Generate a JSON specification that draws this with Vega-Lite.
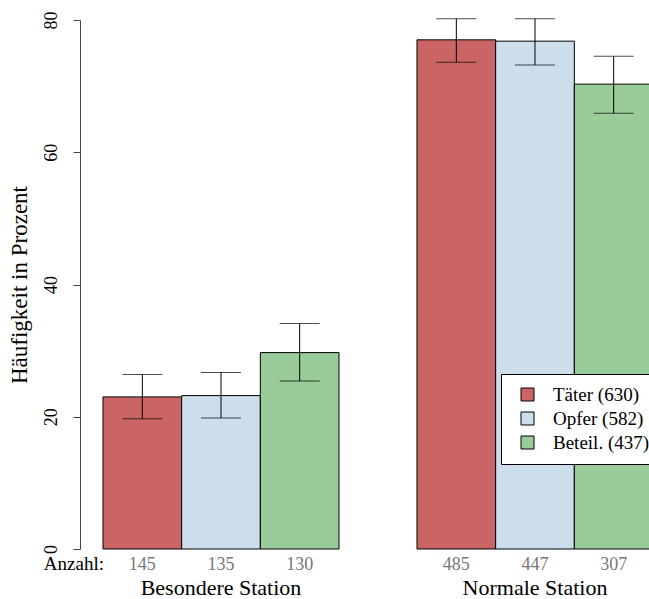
{
  "$schema": "https://vega.github.io/schema/vega-lite/v6.json",
  "autosize": {"type": "none"},
  "padding": {"left": 80, "top": 20, "right": 0, "bottom": 50},
  "width": 569,
  "height": 529,
  "config": {
    "font": "Liberation Serif",
    "view": {"stroke": null},
    "axis": {"grid": false}
  },
  "data": {
    "values": [
      {"Station": "Besondere Station", "Gruppe": "Täter (630)", "Prozent": 23.0, "lo": 19.7, "hi": 26.4, "n": 145},
      {"Station": "Besondere Station", "Gruppe": "Opfer (582)", "Prozent": 23.2, "lo": 19.8, "hi": 26.7, "n": 135},
      {"Station": "Besondere Station", "Gruppe": "Beteil. (437)", "Prozent": 29.7, "lo": 25.4, "hi": 34.1, "n": 130},
      {"Station": "Normale Station", "Gruppe": "Täter (630)", "Prozent": 77.0, "lo": 73.6, "hi": 80.2, "n": 485},
      {"Station": "Normale Station", "Gruppe": "Opfer (582)", "Prozent": 76.8, "lo": 73.2, "hi": 80.2, "n": 447},
      {"Station": "Normale Station", "Gruppe": "Beteil. (437)", "Prozent": 70.3, "lo": 65.9, "hi": 74.5, "n": 307}
    ]
  },
  "encoding": {
    "x": {
      "field": "Station",
      "type": "nominal",
      "sort": ["Besondere Station", "Normale Station"],
      "scale": {"range": [23, 573], "paddingInner": 0.2484, "paddingOuter": 0},
      "axis": {
        "title": null,
        "domain": false,
        "ticks": false,
        "labelAngle": 0,
        "labelFontSize": 22,
        "labelColor": "black",
        "labelPadding": 28
      }
    },
    "xOffset": {
      "field": "Gruppe",
      "type": "nominal",
      "sort": ["Täter (630)", "Opfer (582)", "Beteil. (437)"],
      "scale": {"paddingInner": 0, "paddingOuter": 0}
    }
  },
  "layer": [
    {
      "mark": {"type": "bar", "stroke": "black", "strokeWidth": 1, "clip": false},
      "encoding": {
        "y": {
          "field": "Prozent",
          "type": "quantitative",
          "scale": {"domain": [0, 80], "nice": false},
          "axis": {
            "title": "Häufigkeit in Prozent",
            "titleFont": "Liberation Serif",
            "titleFontSize": 23,
            "titleFontWeight": "normal",
            "titleColor": "black",
            "titlePadding": 11,
            "values": [0, 20, 40, 60, 80],
            "labelAngle": -90,
            "labelAlign": "center",
            "labelBaseline": "alphabetic",
            "labelPadding": 17,
            "labelFontSize": 18,
            "labelColor": "black",
            "tickSize": 7,
            "tickColor": "#444",
            "domainColor": "#444"
          }
        },
        "fill": {
          "field": "Gruppe",
          "type": "nominal",
          "sort": ["Täter (630)", "Opfer (582)", "Beteil. (437)"],
          "scale": {"range": ["#CB6565", "#CCDDEC", "#99CC99"]},
          "legend": {
            "title": null,
            "orient": "none",
            "legendX": 421,
            "legendY": 354,
            "strokeColor": "black",
            "fillColor": "white",
            "padding": 11,
            "symbolOffset": 6,
            "symbolType": "square",
            "symbolSize": 169,
            "symbolStrokeColor": "black",
            "symbolStrokeWidth": 1,
            "labelFontSize": 19,
            "labelColor": "black",
            "labelOffset": 16,
            "rowPadding": 4
          }
        }
      }
    },
    {
      "mark": {"type": "rule", "color": "black", "strokeWidth": 1, "clip": false},
      "encoding": {
        "y": {"field": "lo", "type": "quantitative"},
        "y2": {"field": "hi"}
      }
    },
    {
      "mark": {"type": "tick", "color": "black", "thickness": 1, "size": 40, "clip": false},
      "encoding": {"y": {"field": "lo", "type": "quantitative"}}
    },
    {
      "mark": {"type": "tick", "color": "black", "thickness": 1, "size": 40, "clip": false},
      "encoding": {"y": {"field": "hi", "type": "quantitative"}}
    },
    {
      "mark": {"type": "text", "fontSize": 18, "color": "#777777", "baseline": "alphabetic", "dy": 21},
      "encoding": {
        "y": {"datum": 0, "type": "quantitative"},
        "text": {"field": "n", "type": "quantitative"}
      }
    },
    {
      "data": {"values": [{"Station": "Besondere Station", "label": "Anzahl:"}]},
      "mark": {"type": "text", "fontSize": 19, "color": "black", "align": "right", "baseline": "alphabetic", "dy": 21, "dx": 1},
      "encoding": {
        "x": {"field": "Station", "type": "nominal", "bandPosition": 0},
        "xOffset": null,
        "y": {"datum": 0, "type": "quantitative"},
        "text": {"field": "label"}
      }
    }
  ]
}
